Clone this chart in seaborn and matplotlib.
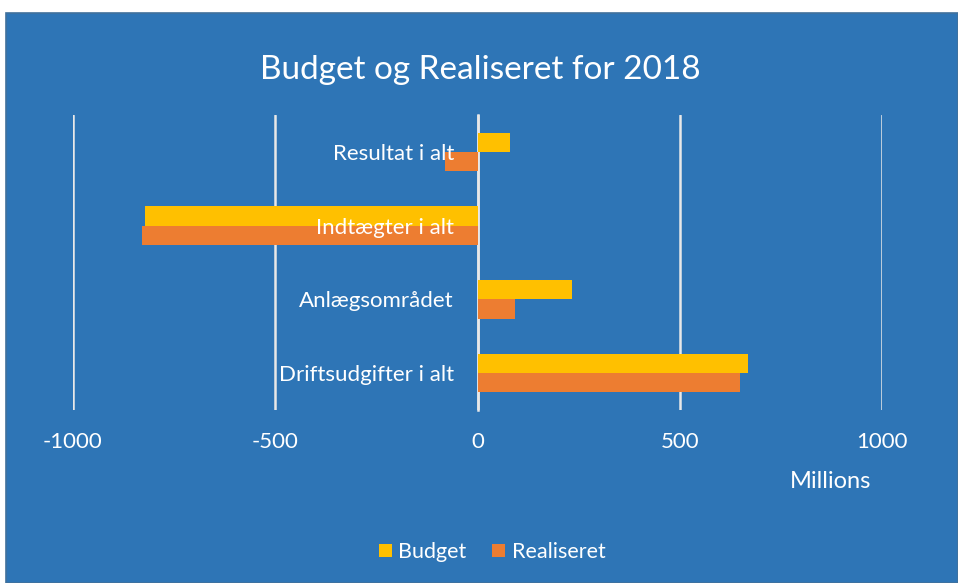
import matplotlib
matplotlib.use("Agg")
import matplotlib.pyplot as plt
from matplotlib.patches import Rectangle
import seaborn as sns
import pandas as pd

categories = ["Resultat i alt", "Indtægter i alt", "Anlægsområdet", "Driftsudgifter i alt"]
budget = [80, -823, 233, 668]
realiseret = [-81, -830, 93, 649]
series = ["Budget", "Realiseret"]
xticks = [-1000, -500, 0, 500, 1000]

df = pd.DataFrame({
    "Kategori": categories * 2,
    "Værdi": budget + realiseret,
    "Serie": [series[0]] * len(categories) + [series[1]] * len(categories),
})

BG = "#2E75B6"
sns.set_style("white")
plt.rcParams["font.family"] = ["Lato", "DejaVu Sans"]

fig = plt.figure(figsize=(9.58, 5.83), dpi=100, facecolor="white")
fig.patches.append(Rectangle((6 / 958, 0), 1 - 6 / 958, (583 - 13) / 583,
                             transform=fig.transFigure, facecolor=BG,
                             edgecolor="#41719C", linewidth=1.2, zorder=0))

ax = fig.add_axes([73 / 958, 1 - 410 / 583, (882 - 73) / 958, (410 - 115) / 583])
ax.set_zorder(2)
ax.patch.set_alpha(0)

sns.barplot(data=df, y="Kategori", x="Værdi", hue="Serie", orient="h",
            palette={"Budget": "#FFC000", "Realiseret": "#ED7D31"},
            saturation=1, width=0.52, ax=ax, zorder=1, linewidth=0, legend=True)

ax.set_axisbelow(False)
ax.set_xlim(-1000, 1000)
ax.set_ylim(3.5, -0.5)
ax.set_xticks(xticks)
ax.set_xticklabels([str(t) for t in xticks], color="white", fontsize=16)
ax.tick_params(axis="x", length=0, pad=16)
for t in xticks:
    ax.axvline(t, color="#E8E8E8", linewidth=1.8, zorder=0.5)

for s in ["top", "right", "bottom"]:
    ax.spines[s].set_visible(False)
ax.spines["left"].set_position(("data", 0))
ax.spines["left"].set_color("#E8E8E8")
ax.spines["left"].set_linewidth(1.8)
ax.spines["left"].set_zorder(0.6)
ax.tick_params(axis="y", length=0, pad=17, labelcolor="white", labelsize=16)
ax.set_ylabel("")
ax.set_xlabel("")

fig.text(831 / 958, 1 - 482 / 583, "Millions", color="white", fontsize=17,
         ha="center", va="center")
fig.text(480 / 958, 1 - 70 / 583, "Budget og Realiseret for 2018", color="white",
         fontsize=24, ha="center", va="center")

handles, labels = ax.get_legend_handles_labels()
ax.legend_.remove()
leg = fig.legend(handles, labels, loc="center", bbox_to_anchor=(492 / 958, 1 - 552 / 583),
                 ncol=2, frameon=False, fontsize=15.5, handlelength=0.6, handleheight=0.6,
                 handletextpad=0.3, columnspacing=1.2)
for txt in leg.get_texts():
    txt.set_color("white")
for h in leg.legend_handles:
    h.set_edgecolor("none")

fig.savefig("out.png", dpi=100, facecolor="white")
